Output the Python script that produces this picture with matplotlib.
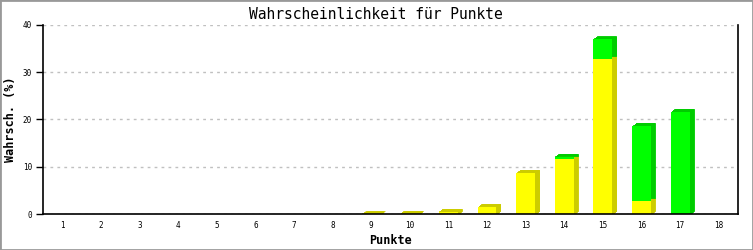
import numpy as np
import matplotlib.pyplot as plt
from matplotlib.transforms import ScaledTranslation
from matplotlib.patches import Rectangle

# Punkte 1..18, Wahrscheinlichkeit in %
punkte = list(range(1, 19))
gelb = [0, 0, 0, 0, 0, 0, 0, 0, 0.05, 0.08, 0.5, 1.5, 8.7, 11.6, 32.8, 2.8, 0, 0]
gruen = [0, 0, 0, 0, 0, 0, 0, 0, 0, 0, 0, 0, 0, 0.5, 4.2, 15.8, 21.6, 0]

x = np.array(punkte)
gelb = np.array(gelb)
gruen = np.array(gruen)

fig = plt.figure(figsize=(7.53, 2.50), dpi=100)
ax = fig.add_axes([43 / 753, 1 - 214 / 250, (738 - 43) / 753, (214 - 25) / 250])

mono = "DejaVu Sans Mono"
w = 0.49

# 3D-Effekt: mehrere versetzte, dunklere Kopien hinter den Balken
for d in np.linspace(0.5, 4, 8):
    tiefe = ax.transData + ScaledTranslation(d / 100, 0.75 * d / 100, fig.dpi_scale_trans)
    g = gelb > 0
    ax.bar(x[g], gelb[g], width=w, color="#cccc00", edgecolor="#cccc00",
           linewidth=0.6, transform=tiefe, zorder=2)
    n = gruen > 0
    ax.bar(x[n], gruen[n], width=w, bottom=gelb[n], color="#00cc00", edgecolor="#00cc00",
           linewidth=0.6, transform=tiefe, zorder=2)

ax.bar(x, gelb, width=w, color="#ffff00", linewidth=0, zorder=3)
ax.bar(x, gruen, width=w, bottom=gelb, color="#00ff00", linewidth=0, zorder=3)

ax.set_xlim(0.5, 18.5)
ax.set_ylim(0, 40)
ax.set_xticks(punkte)
ax.set_yticks([0, 10, 20, 30, 40])
ax.tick_params(axis="x", length=0, pad=5, labelsize=5.5)
ax.tick_params(axis="y", length=5, width=1, pad=3, labelsize=5.5)
for lab in ax.get_xticklabels() + ax.get_yticklabels():
    lab.set_family(mono)

ax.yaxis.grid(True, color="#c0c0c0", linestyle=(0, (2, 3)), linewidth=1, zorder=0)
ax.set_axisbelow(True)
ax.spines["top"].set_visible(False)
for s in ["left", "bottom", "right"]:
    ax.spines[s].set_linewidth(1.2)
    ax.spines[s].set_zorder(4)

fig.text(375.5 / 753, 1 - 14.5 / 250, "Wahrscheinlichkeit für Punkte", family=mono,
         fontsize=10.5, ha="center", va="center")
ax.set_xlabel("Punkte", family=mono, fontsize=8.5, fontweight="bold", va="center")
ax.set_ylabel("Wahrsch. (%)", family=mono, fontsize=8.5, fontweight="bold", va="center")
ax.xaxis.set_label_coords(0.5, -(240 - 214) / 189)
ax.yaxis.set_label_coords(-(43 - 10) / 695, 0.5)

fig.patches.append(Rectangle((0, 0), 1, 1, transform=fig.transFigure, fill=False,
                             edgecolor="#999999", linewidth=2))

fig.savefig("out.png", dpi=100, facecolor="white")
